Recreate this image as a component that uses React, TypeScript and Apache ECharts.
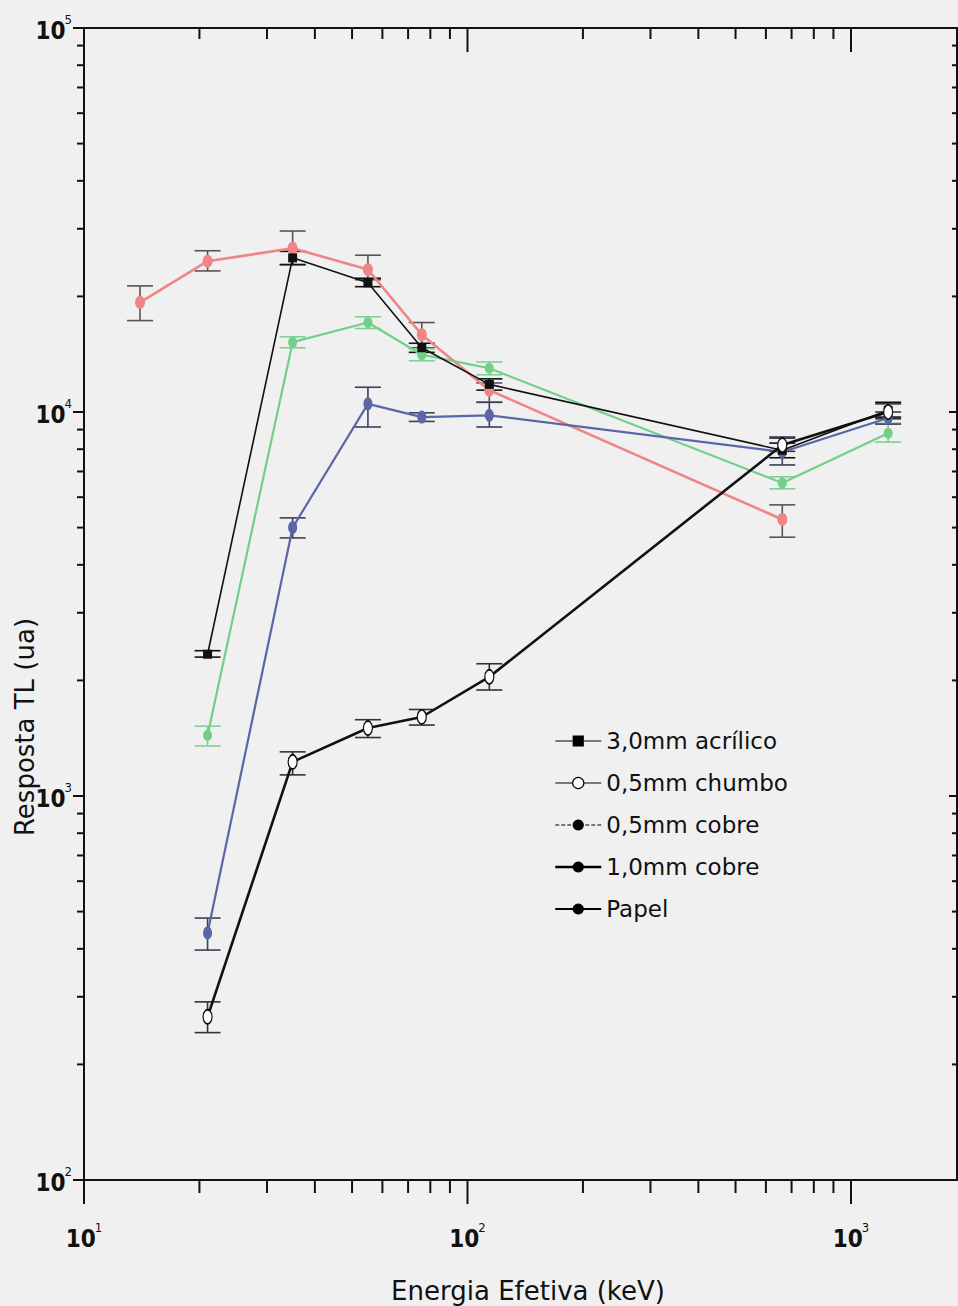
import { useEffect, useRef } from "react";
import * as echarts from "echarts";

// Effective energies (keV) of the beams
const energiesNoPapel = [21, 35, 55, 76, 114, 662, 1250];
const energiesPapel = [14, 21, 35, 55, 76, 114, 662];

const seriesNames = ["3,0mm acrílico", "0,5mm chumbo", "0,5mm cobre", "1,0mm cobre", "Papel"];

// TL response (a.u.) with lower / upper error limits
const acrilico = [2340, 25200, 21700, 14700, 11800, 7950, 10100];
const acrilicoLow = [2300, 24200, 21200, 14300, 11400, 7600, 9700];
const acrilicoHigh = [2390, 26200, 22300, 15100, 12200, 8300, 10600];

const chumbo = [266, 1227, 1503, 1606, 2043, 8200, 10000];
const chumboLow = [242, 1135, 1420, 1530, 1888, 7900, 9600];
const chumboHigh = [291, 1303, 1580, 1680, 2210, 8550, 10500];

const cobre05 = [1440, 15200, 17100, 14100, 13000, 6530, 8800];
const cobre05Low = [1350, 14700, 16500, 13600, 12500, 6310, 8350];
const cobre05High = [1520, 15700, 17700, 14600, 13500, 6780, 9350];

const cobre10 = [440, 5000, 10500, 9700, 9800, 7870, 9650];
const cobre10Low = [397, 4700, 9140, 9450, 9140, 7280, 9300];
const cobre10High = [481, 5300, 11600, 9950, 10600, 8610, 10000];

const papel = [19300, 24700, 26700, 23500, 15900, 11400, 5250];
const papelLow = [17300, 23300, 24200, 22100, 14700, 10600, 4720];
const papelHigh = [21300, 26300, 29600, 25600, 17100, 11900, 5730];

// Axis ranges
const X_MIN = 10;
const X_MAX = 1890;
const Y_MIN = 100;
const Y_MAX = 100000;

const LABEL_FONT = "'Liberation Sans Narrow', 'DejaVu Sans Condensed', 'Liberation Sans', sans-serif";
const TEXT_FONT = "'DejaVu Sans', 'Liberation Sans', sans-serif";

// log-decade tick positions (1..9 x 10^k) inside a range
function decadeTicks(min: number, max: number): { v: number; major: boolean }[] {
  const out: { v: number; major: boolean }[] = [];
  for (let k = Math.floor(Math.log10(min)); k <= Math.ceil(Math.log10(max)); k++) {
    for (let m = 1; m <= 9; m++) {
      const v = m * Math.pow(10, k);
      if (v >= min - 1e-9 && v <= max + 1e-9) out.push({ v, major: m === 1 });
    }
  }
  return out;
}

function powerLabel(v: number): string {
  const e = Math.log10(v);
  const r = Math.round(e);
  return Math.abs(e - r) < 1e-4 ? `{b|10}{s|${r}}` : "";
}

const labelRich = {
  b: { fontSize: 24, fontWeight: "bold", fontFamily: LABEL_FONT, color: "#111", lineHeight: 30, verticalAlign: "bottom" },
  s: { fontSize: 13, fontFamily: LABEL_FONT, color: "#111", lineHeight: 30, verticalAlign: "top", padding: [0, 0, 0, -1] },
};

function pairs(xs: number[], ys: number[]) {
  return xs.map((x, i) => [x, ys[i]]);
}
function triples(xs: number[], lo: number[], hi: number[]) {
  return xs.map((x, i) => [x, lo[i], hi[i]]);
}

function errorSeries(name: string, xs: number[], lo: number[], hi: number[], color: string) {
  return {
    type: "custom",
    name: "err " + name,
    clip: false,
    z: 3,
    encode: { x: 0, y: [1, 2] },
    data: triples(xs, lo, hi),
    renderItem: (_p: any, api: any) => {
      const x = api.value(0);
      const a = api.coord([x, api.value(1)]);
      const b = api.coord([x, api.value(2)]);
      const hw = 13;
      const style = { stroke: color, lineWidth: 1.6, fill: "none" };
      return {
        type: "group",
        children: [
          { type: "line", shape: { x1: a[0], y1: a[1], x2: b[0], y2: b[1] }, style },
          { type: "line", shape: { x1: a[0] - hw, y1: a[1], x2: a[0] + hw, y2: a[1] }, style },
          { type: "line", shape: { x1: b[0] - hw, y1: b[1], x2: b[0] + hw, y2: b[1] }, style },
        ],
      };
    },
  };
}

export default function App() {
  const ref = useRef<HTMLDivElement>(null);

  useEffect(() => {
    if (!ref.current) return;
    const chart = echarts.init(ref.current, null, { renderer: "svg" });

    // side: 0 bottom, 1 top, 2 left, 3 right
    const tickData: number[][] = [];
    decadeTicks(X_MIN, X_MAX).forEach((t) => {
      tickData.push([t.v, Y_MIN, 0, t.major ? 1 : 0]);
      tickData.push([t.v, Y_MAX, 1, t.major ? 1 : 0]);
    });
    decadeTicks(Y_MIN, Y_MAX).forEach((t) => {
      tickData.push([X_MIN, t.v, 2, t.major ? 1 : 0]);
      tickData.push([X_MAX, t.v, 3, t.major ? 1 : 0]);
    });

    const tickSeries = {
      type: "custom",
      name: "ticks",
      clip: false,
      silent: true,
      z: 1,
      encode: { x: 0, y: 1 },
      data: tickData,
      renderItem: (_p: any, api: any) => {
        const p = api.coord([api.value(0), api.value(1)]);
        const side = api.value(2);
        const major = api.value(3) === 1;
        let x2 = p[0];
        let y2 = p[1];
        if (side === 0) y2 = p[1] + (major ? 24 : 13);
        else if (side === 1) y2 = p[1] + (major ? 24 : 11);
        else if (side === 2) x2 = p[0] - (major ? 11 : 7);
        else x2 = p[0] - (major ? 8 : 5);
        return {
          type: "line",
          shape: { x1: p[0], y1: p[1], x2, y2 },
          style: { stroke: "#111", lineWidth: 2 },
        };
      },
    };

    const pink = "#ef8585";
    const green = "#72cf88";
    const blue = "#5b66a8";

    const option: any = {
      animation: false,
      backgroundColor: "#f0f0f0",
      grid: {
        left: 84,
        top: 28,
        right: 1,
        bottom: 126,
        show: true,
        borderColor: "#111",
        borderWidth: 2,
        backgroundColor: "transparent",
      },
      xAxis: {
        type: "log",
        logBase: 10,
        min: X_MIN,
        max: X_MAX,
        axisLine: { show: false },
        axisTick: { show: false },
        splitLine: { show: false },
        axisLabel: { formatter: powerLabel, rich: labelRich, margin: 41, showMaxLabel: false },
      },
      yAxis: {
        type: "log",
        logBase: 10,
        min: Y_MIN,
        max: Y_MAX,
        axisLine: { show: false },
        axisTick: { show: false },
        splitLine: { show: false },
        axisLabel: { formatter: powerLabel, rich: labelRich, margin: 12 },
      },
      legend: {
        orient: "vertical",
        left: 549,
        top: 724,
        itemWidth: 46,
        itemHeight: 14,
        itemGap: 18,
        textStyle: { fontSize: 23, fontFamily: TEXT_FONT, color: "#111", lineHeight: 24 },
        data: [
          { name: seriesNames[0], itemStyle: { color: "#000" }, lineStyle: { color: "#000", width: 1.2 } },
          { name: seriesNames[1], itemStyle: { color: "#fff", borderColor: "#000", borderWidth: 1.2 }, lineStyle: { color: "#000", width: 1.2 } },
          { name: seriesNames[2], itemStyle: { color: "#000" }, lineStyle: { color: "#000", width: 1, type: "dashed" } },
          { name: seriesNames[3], itemStyle: { color: "#000" }, lineStyle: { color: "#000", width: 2.5 } },
          { name: seriesNames[4], itemStyle: { color: "#000" }, lineStyle: { color: "#000", width: 1.8 } },
        ],
      },
      graphic: [
        {
          type: "text",
          x: 528,
          y: 1291,
          style: {
            text: "Energia Efetiva (keV)",
            fontSize: 26,
            fontFamily: TEXT_FONT,
            fill: "#111",
            align: "center",
            verticalAlign: "middle",
            textAlign: "center",
            textVerticalAlign: "middle",
          },
        },
        {
          type: "text",
          x: 25,
          y: 727,
          rotation: Math.PI / 2,
          style: {
            text: "Resposta TL (ua)",
            fontSize: 26,
            fontFamily: TEXT_FONT,
            fill: "#111",
            align: "center",
            verticalAlign: "middle",
            textAlign: "center",
            textVerticalAlign: "middle",
          },
        },
      ],
      series: [
        tickSeries,
        errorSeries(seriesNames[4], energiesPapel, papelLow, papelHigh, "#555"),
        errorSeries(seriesNames[2], energiesNoPapel, cobre05Low, cobre05High, "#7fcf93"),
        errorSeries(seriesNames[3], energiesNoPapel, cobre10Low, cobre10High, "#3c3f5a"),
        errorSeries(seriesNames[0], energiesNoPapel, acrilicoLow, acrilicoHigh, "#111"),
        errorSeries(seriesNames[1], energiesNoPapel, chumboLow, chumboHigh, "#333"),
        {
          type: "line",
          name: seriesNames[4],
          z: 4,
          data: pairs(energiesPapel, papel),
          symbol: "circle",
          symbolSize: [10, 13],
          lineStyle: { color: pink, width: 2.6 },
          itemStyle: { color: pink },
        },
        {
          type: "line",
          name: seriesNames[2],
          z: 4,
          data: pairs(energiesNoPapel, cobre05),
          symbol: "circle",
          symbolSize: [9, 11],
          lineStyle: { color: green, width: 2.2 },
          itemStyle: { color: green },
        },
        {
          type: "line",
          name: seriesNames[3],
          z: 4,
          data: pairs(energiesNoPapel, cobre10),
          symbol: "circle",
          symbolSize: [9, 13],
          lineStyle: { color: blue, width: 2.2 },
          itemStyle: { color: blue },
        },
        {
          type: "line",
          name: seriesNames[0],
          z: 5,
          data: pairs(energiesNoPapel, acrilico),
          symbol: "rect",
          symbolSize: 9,
          lineStyle: { color: "#111", width: 1.6 },
          itemStyle: { color: "#111" },
        },
        {
          type: "line",
          name: seriesNames[1],
          z: 5,
          data: pairs(energiesNoPapel, chumbo),
          symbol: "circle",
          symbolSize: [9, 14],
          lineStyle: { color: "#111", width: 2.6 },
          itemStyle: { color: "#fff", borderColor: "#111", borderWidth: 1.5 },
        },
      ],
    };

    chart.setOption(option);
    return () => chart.dispose();
  }, []);

  return (
    <div
      ref={ref}
      style={{ position: "absolute", left: 0, top: 0, width: 958, height: 1306 }}
    />
  );
}
